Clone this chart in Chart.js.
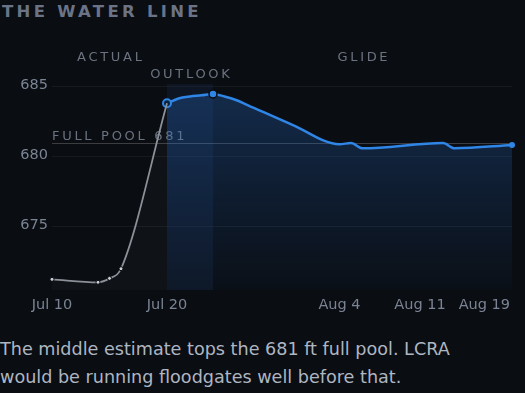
<!DOCTYPE html>
<html>
<head>
<meta charset="utf-8">
<script src="https://cdn.jsdelivr.net/npm/chart.js@4.4.1/dist/chart.umd.min.js"></script>
<style>
  html, body { margin: 0; padding: 0; background: #0a0d12; }
  body { width: 525px; height: 393px; position: relative; overflow: hidden; font-family: "DejaVu Sans", sans-serif; }
  .title { position: absolute; left: 2px; top: 4px; font-size: 16.5px; line-height: 16px; font-weight: bold; letter-spacing: 3.3px; color: #6b7487; white-space: nowrap; }
  .chart-wrap { position: absolute; left: 0; top: 30px; width: 525px; height: 288px; }
  .caption { position: absolute; left: 0; top: 335px; width: 500px; font-size: 17.6px; line-height: 28.3px; color: #aeb6c2; }
</style>
</head>
<body>
<div class="title">THE WATER LINE</div>
<div class="chart-wrap"><canvas id="waterChart"></canvas></div>
<div class="caption">The middle estimate tops the 681 ft full pool. LCRA would be running floodgates well before that.</div>
<script>
// days counted from Jul 10
const actualDays = [0, 4, 5, 6, 10];
const actualLevels = [671.26, 671.05, 671.33, 672.02, 683.82];
const outlookDays = [10, 11, 12, 13, 14, 15, 16, 17, 21, 25, 26, 27, 34, 35, 40];
const outlookLevels = [683.82, 684.17, 684.31, 684.39, 684.49, 684.31, 684.06, 683.70, 682.25, 680.90, 680.99, 680.61, 680.99, 680.61, 680.85];
const tickDays = [0, 10, 25, 32, 40];
const tickLabels = ["Jul 10", "Jul 20", "Aug 4", "Aug 11", "Aug 19"];
const yTicks = [675, 680, 685];
const phaseLabels = ["ACTUAL", "OUTLOOK", "GLIDE"];
const phaseStart = [0, 10, 14];
const phaseEnd = [10, 14, 40];
const fullPool = 681;

const BLUE = "#2f86e6";
const LABEL_GRAY = "#6b7380";
const TICK_GRAY = "#7b8494";

function outlookRadius(ctx) {
  const i = ctx.dataIndex;
  if (i === 0 || outlookDays[i] === 14) return 4;
  if (i === outlookDays.length - 1) return 3;
  return 0;
}

function outlookFill(ctx) {
  const area = ctx.chart.chartArea;
  if (!area) return "rgba(40,110,200,0.2)";
  const g = ctx.chart.ctx.createLinearGradient(0, area.top, 0, area.bottom);
  g.addColorStop(0, "rgba(40,110,200,0.32)");
  g.addColorStop(1, "rgba(40,110,200,0.03)");
  return g;
}

const waterPlugin = {
  id: "waterLine",
  beforeDatasetsDraw(chart) {
    const { ctx, chartArea: a, scales: { x, y } } = chart;
    ctx.save();
    // outlook band
    const bx0 = x.getPixelForValue(phaseStart[1]);
    const bx1 = x.getPixelForValue(phaseEnd[1]);
    ctx.fillStyle = "rgba(59,130,246,0.08)";
    ctx.fillRect(bx0, a.top, bx1 - bx0, a.bottom - a.top);
    // full pool line
    const py = Math.round(y.getPixelForValue(fullPool)) + 0.5;
    ctx.strokeStyle = "rgba(255,255,255,0.2)";
    ctx.lineWidth = 1;
    ctx.beginPath();
    ctx.moveTo(a.left, py);
    ctx.lineTo(a.right, py);
    ctx.stroke();
    ctx.font = "13px 'DejaVu Sans'";
    ctx.letterSpacing = "2.7px";
    ctx.fillStyle = LABEL_GRAY;
    ctx.textAlign = "left";
    ctx.textBaseline = "alphabetic";
    ctx.fillText("FULL POOL " + fullPool, a.left, py - 4);
    ctx.restore();
  },
  afterDraw(chart) {
    const { ctx, chartArea: a, scales: { x } } = chart;
    ctx.save();
    ctx.textBaseline = "alphabetic";
    // phase labels
    ctx.font = "13px 'DejaVu Sans'";
    ctx.letterSpacing = "2.7px";
    ctx.fillStyle = LABEL_GRAY;
    ctx.textAlign = "center";
    phaseLabels.forEach((lbl, i) => {
      const cx = (x.getPixelForValue(phaseStart[i]) + x.getPixelForValue(phaseEnd[i])) / 2;
      const by = i === 1 ? a.top - 5.7 : a.top - 23;
      ctx.fillText(lbl, cx + 1.35, by);
    });
    // x tick labels
    ctx.letterSpacing = "0px";
    ctx.font = "14.5px 'DejaVu Sans'";
    ctx.fillStyle = TICK_GRAY;
    tickDays.forEach((d, i) => {
      const px = x.getPixelForValue(d);
      const last = i === tickDays.length - 1;
      ctx.textAlign = last ? "right" : "center";
      ctx.fillText(tickLabels[i], last ? px - 2 : px, a.bottom + 19.3);
    });
    ctx.restore();
  },
};

const canvas = document.getElementById("waterChart");
new Chart(canvas.getContext("2d"), {
  type: "line",
  data: {
    datasets: [
      {
        label: "Actual",
        data: actualDays.map((d, i) => ({ x: d, y: actualLevels[i] })),
        borderColor: "#8b9099",
        borderWidth: 1.8,
        fill: "start",
        backgroundColor: "rgba(255,255,255,0.025)",
        cubicInterpolationMode: "monotone",
        pointRadius: actualDays.map((_, i) => (i === actualDays.length - 1 ? 0 : 2)),
        pointBackgroundColor: "#c9cdd4",
        pointBorderColor: "#0a0d12",
        pointBorderWidth: 1,
        clip: false,
      },
      {
        label: "Outlook",
        data: outlookDays.map((d, i) => ({ x: d, y: outlookLevels[i] })),
        borderColor: BLUE,
        borderWidth: 2.5,
        fill: "start",
        backgroundColor: outlookFill,
        cubicInterpolationMode: "monotone",
        pointRadius: outlookRadius,
        pointBackgroundColor: (ctx) => (ctx.dataIndex === 0 ? "#0d2440" : BLUE),
        pointBorderColor: (ctx) => (ctx.dataIndex === 0 ? BLUE : "#0a0d12"),
        pointBorderWidth: (ctx) => (ctx.dataIndex === 0 ? 2 : ctx.dataIndex === outlookDays.length - 1 ? 0 : 1.5),
        clip: false,
      },
    ],
  },
  options: {
    responsive: true,
    maintainAspectRatio: false,
    animation: false,
    layout: { padding: { top: 54, right: 13, bottom: 28, left: 0 } },
    plugins: { legend: { display: false }, tooltip: { enabled: false } },
    scales: {
      x: { type: "linear", min: 0, max: 40, display: false },
      y: {
        min: 670.5,
        max: 685.2,
        afterBuildTicks: (s) => { s.ticks = yTicks.map((v) => ({ value: v })); },
        afterFit: (s) => { s.width = 52; },
        border: { display: false },
        grid: { color: "rgba(255,255,255,0.05)", drawTicks: false },
        ticks: {
          color: TICK_GRAY,
          font: { family: "DejaVu Sans", size: 14.5 },
          padding: 4,
          labelOffset: -2,
        },
      },
    },
  },
  plugins: [waterPlugin],
});
</script>
</body>
</html>
